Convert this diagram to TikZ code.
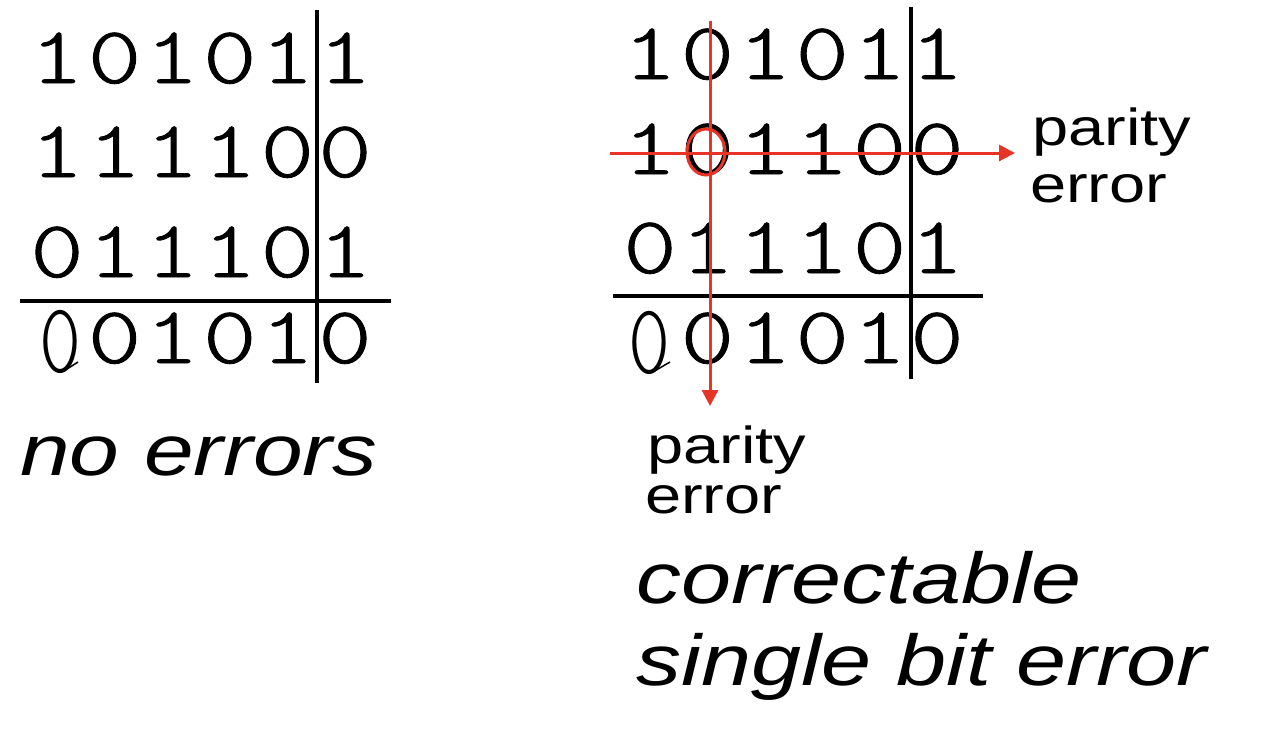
\documentclass[tikz,border=0pt]{standalone}
\usepackage{fontspec}
\setmainfont{Liberation Sans}
\newfontfamily\digitfont[FakeBold=1]{lmmonolt10-regular.otf}
\newfontfamily\zerofont{lmmonolt10-regular.otf}
\usetikzlibrary{arrows.meta,shapes.geometric}
\definecolor{errred}{RGB}{232,52,38}
\begin{document}
\begin{tikzpicture}[x=1pt,y=-1pt,
  bit/.style={inner sep=0, anchor=base, font=\digitfont\fontsize{81}{81}\selectfont},
  zero/.style={inner sep=0, anchor=base, font=\zerofont\fontsize{100}{100}\selectfont},
  lbl/.style={inner sep=0, anchor=base west, font=\fontsize{52}{52}\selectfont},
  captxt/.style={inner sep=0, anchor=base west, font=\itshape\fontsize{72}{72}\selectfont},
  rulel/.style={line width=4.5pt, black},
  redline/.style={line width=3pt, errred},
  redarrow/.style={redline, -{Triangle[length=16pt,width=16pt]}},
]
\useasboundingbox (0,0) rectangle (1274,734);

% ---------- left grid ----------
\foreach \d [count=\c] in {1,0,1,0,1,1}
  \node[bit] (La\c) at ({57+57.6*(\c-1)},83) {\scalebox{1.25}[1]{\d}};
\foreach \d [count=\c] in {1,1,1,1,0,0}
  \node[bit] (Lb\c) at ({57+57.6*(\c-1)},177) {\scalebox{1.25}[1]{\d}};
\foreach \d [count=\c] in {0,1,1,1,0,1}
  \node[bit] (Lc\c) at ({57+57.6*(\c-1)},277) {\scalebox{1.25}[1]{\d}};
\foreach \d [count=\c] in {0,1,0,1,0}
  \node[bit] (Ld\c) at ({57+57.6*\c},363) {\scalebox{1.25}[1]{\d}};
\node[zero] (Lz) at (60,372) {\scalebox{0.8}[1]{0}};
\coordinate (Lzt1) at (64,371); \coordinate (Lzt2) at (78,362);
\draw[line width=1.5pt] (Lzt1) -- (Lzt2);

\coordinate (Lvt) at (317,10);  \coordinate (Lvb) at (317,383);
\coordinate (Lhl) at (20,301);  \coordinate (Lhr) at (391,301);
\draw[rulel] (Lvt) -- (Lvb);
\draw[rulel] (Lhl) -- (Lhr);

\node[captxt] (noerr) at (20,475) {\scalebox{1.24}[1]{no errors}};

% ---------- right grid ----------
\foreach \d [count=\c] in {1,0,1,0,1,1}
  \node[bit] (Ra\c) at ({650+57.4*(\c-1)},79) {\scalebox{1.25}[1]{\d}};
\foreach \d [count=\c] in {1,0,1,1,0,0}
  \node[bit] (Rb\c) at ({650+57.4*(\c-1)},174) {\scalebox{1.25}[1]{\d}};
\foreach \d [count=\c] in {0,1,1,1,0,1}
  \node[bit] (Rc\c) at ({650+57.4*(\c-1)},273) {\scalebox{1.25}[1]{\d}};
\foreach \d [count=\c] in {0,1,0,1,0}
  \node[bit] (Rd\c) at ({650+57.4*\c},363) {\scalebox{1.25}[1]{\d}};
\node[zero] (Rz) at (649,373) {\scalebox{0.8}[1]{0}};
\coordinate (Rzt1) at (653,372); \coordinate (Rzt2) at (670,362);
\draw[line width=1.5pt] (Rzt1) -- (Rzt2);

\coordinate (Rvt) at (911,7);   \coordinate (Rvb) at (911,379);
\coordinate (Rhl) at (613,296); \coordinate (Rhr) at (983,296);
\draw[rulel] (Rvt) -- (Rvb);
\draw[rulel] (Rhl) -- (Rhr);

% red marks
\node[ellipse, draw=errred, line width=3pt, minimum width=38pt, minimum height=46pt, inner sep=0] (flip) at (706,152) {};
\coordinate (cvt) at (710,21);  \coordinate (cvb) at (710,406);
\coordinate (rhl) at (610,153); \coordinate (rhr) at (1015,153);
\draw[redarrow] (cvt) -- (cvb);
\draw[redarrow] (rhl) -- (rhr);

% labels
\node[lbl] (rp) at (1032,145) {\scalebox{1.25}[1]{parity}};
\node[lbl] (re) at (1030,202) {\scalebox{1.25}[1]{error}};
\node[lbl] (bp) at (647,463) {\scalebox{1.25}[1]{parity}};
\node[lbl] (be) at (645,513) {\scalebox{1.25}[1]{error}};

\node[captxt] (corr) at (636,603) {\scalebox{1.25}[1]{correctable}};
\node[captxt] (sbe)  at (636,685) {\scalebox{1.25}[1]{single bit error}};
\end{tikzpicture}
\end{document}
